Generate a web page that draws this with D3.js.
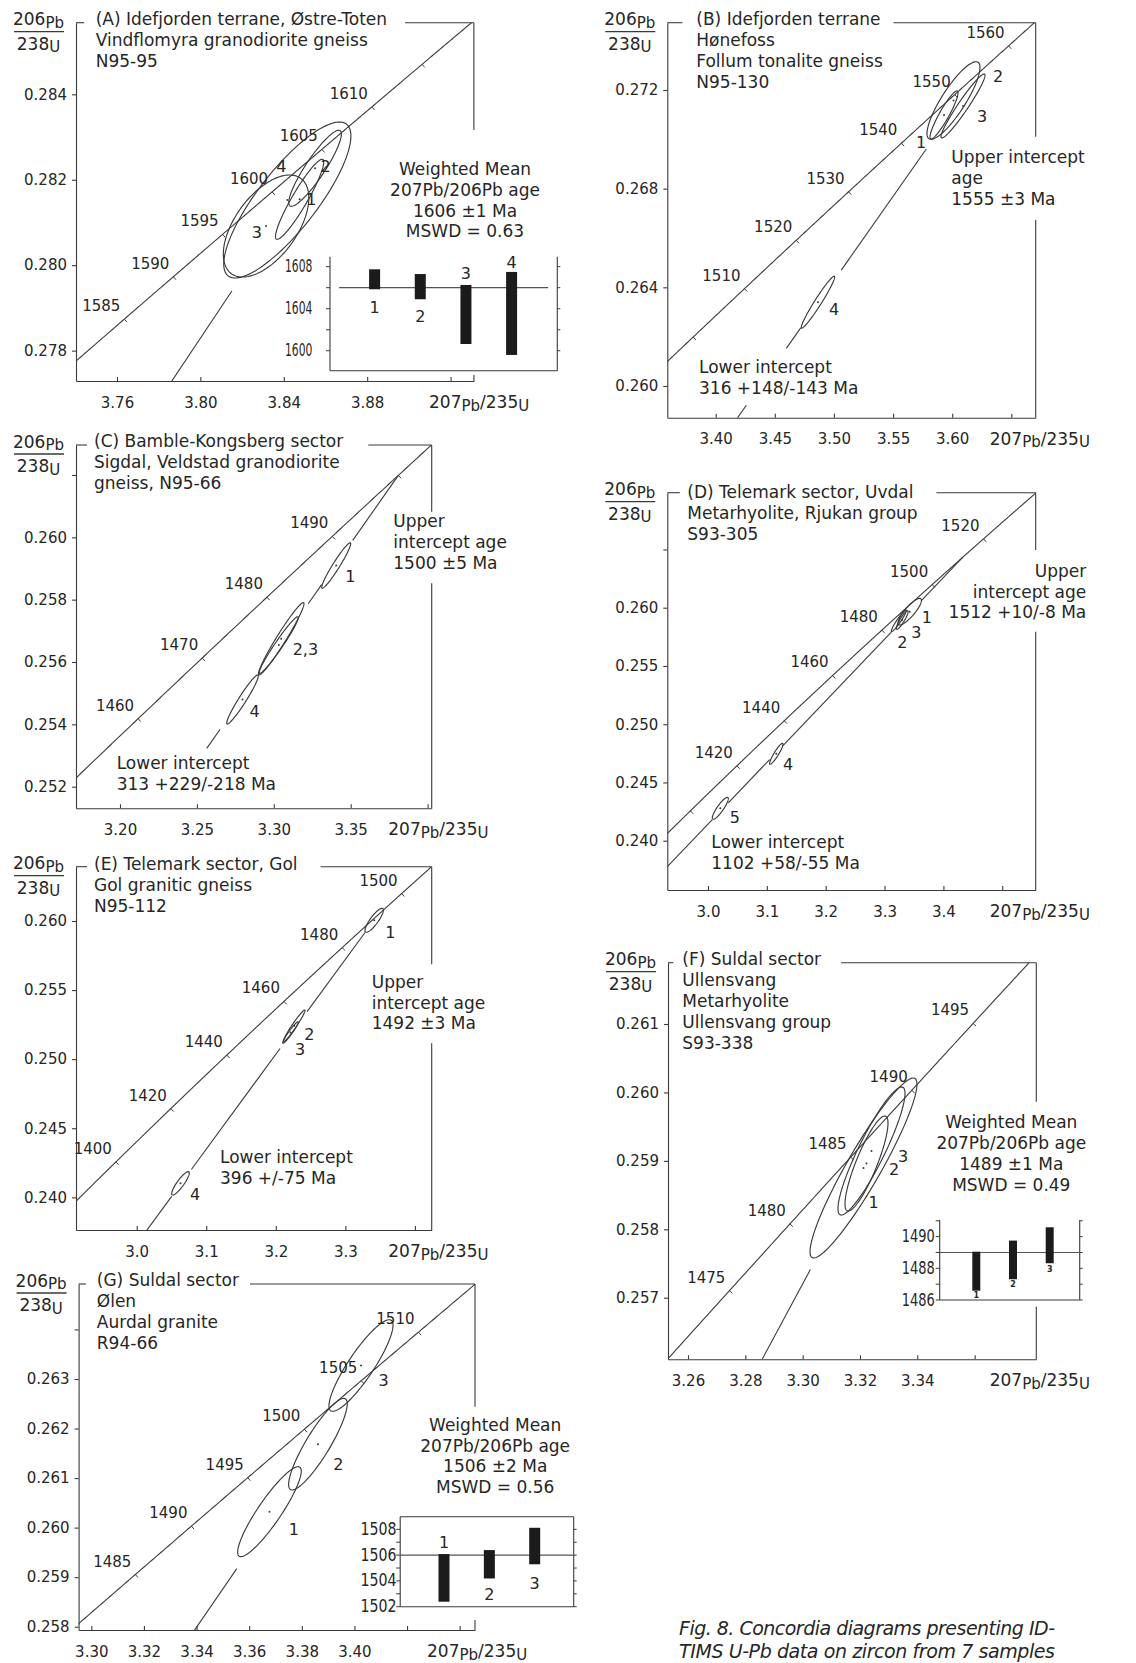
<!DOCTYPE html>
<html>
<head>
<meta charset="utf-8">
<script src="https://cdn.jsdelivr.net/npm/d3@7"></script>
<style>
  html, body { margin: 0; background: #fff; }
  svg { display: block; }
  text { font-family: "DejaVu Sans", "Liberation Sans", sans-serif; fill: #262626; }
</style>
</head>
<body>
<svg id="fig" width="1136" height="1663"></svg>
<script>
// U decay constants (per Ma); the concordia is the locus of (207Pb/235U, 206Pb/238U) for age t
const LAMBDA_238 = 1.55125e-4;
const LAMBDA_235 = 9.8485e-4;
const concordia = t => [Math.expm1(LAMBDA_235 * t), Math.expm1(LAMBDA_238 * t)];

// ---------- (A) Idefjorden terrane, Østre-Toten ----------
const titleA = ["(A) Idefjorden terrane, Østre-Toten", "Vindflomyra granodiorite gneiss", "N95-95"];
const xTicksA = [3.76, 3.80, 3.84, 3.88, 3.92];
const xLabelsA = ["3.76", "3.80", "3.84", "3.88", ""];
const yTicksA = [0.278, 0.280, 0.282, 0.284];
const yLabelsA = ["0.278", "0.280", "0.282", "0.284"];
const agesA = [1585, 1590, 1595, 1600, 1605, 1610, 1615];
const ageLabelsA = ["1585", "1590", "1595", "1600", "1605", "1610", ""];
// [label, 207/235, 206/238, half-width 207/235, half-width 206/238, rho]
const spotsA = [
  ["1", 3.8476, 0.281542, 0.01157, 0.000936, 0.93],
  ["2", 3.8550, 0.282268, 0.01262, 0.000890, 0.90],
  ["3", 3.8315, 0.280917, 0.0205, 0.001194, 0.55],
  ["4", 3.8417, 0.281526, 0.0305, 0.001826, 0.82]
];
const interceptsA = [1606, 0];
const discordiaA = [[3.70, 3.8151]];
const notesA = ["Weighted Mean", "207Pb/206Pb age", "1606 ±1 Ma", "MSWD = 0.63"];
const meanAgeA = 1606;
const barsA = [[1605.85, 1607.75], [1604.9, 1607.3], [1600.64, 1606.26], [1599.6, 1607.5]];
const barIdsA = ["1", "2", "3", "4"];
const barTicksA = [1600, 1602, 1604, 1606, 1608];
const barTickLabelsA = [1600, 1604, 1608];

// ---------- (B) Idefjorden terrane, Hønefoss ----------
const titleB = ["(B) Idefjorden terrane", "Hønefoss", "Follum tonalite gneiss", "N95-130"];
const xTicksB = [3.40, 3.45, 3.50, 3.55, 3.60, 3.65];
const xLabelsB = ["3.40", "3.45", "3.50", "3.55", "3.60", ""];
const yTicksB = [0.260, 0.264, 0.268, 0.272];
const yLabelsB = ["0.260", "0.264", "0.268", "0.272"];
const agesB = [1500, 1510, 1520, 1530, 1540, 1550, 1560];
const ageLabelsB = ["", "1510", "1520", "1530", "1540", "1550", "1560"];
const spotsB = [
  ["1", 3.59305, 0.270987, 0.01184, 0.000973, 0.92],
  ["2", 3.60108, 0.271574, 0.02241, 0.001573, 0.85],
  ["3", 3.60912, 0.271351, 0.0186, 0.001297, 0.96],
  ["4", 3.4865, 0.263400, 0.01412, 0.001054, 0.97]
];
const interceptsB = [1555, 316];
const discordiaB = [[3.40, 3.4259], [3.4597, 3.4719], [3.5062, 3.5781]];
const upperB = ["Upper intercept", "age", "1555 ±3 Ma"];
const lowerB = ["Lower intercept", "316 +148/-143 Ma"];

// ---------- (C) Bamble-Kongsberg sector ----------
const titleC = ["(C) Bamble-Kongsberg sector", "Sigdal, Veldstad granodiorite", "gneiss, N95-66"];
const xTicksC = [3.20, 3.25, 3.30, 3.35, 3.40];
const xLabelsC = ["3.20", "3.25", "3.30", "3.35", ""];
const yTicksC = [0.252, 0.254, 0.256, 0.258, 0.260, 0.262];
const yLabelsC = ["0.252", "0.254", "0.256", "0.258", "0.260", ""];
const agesC = [1460, 1470, 1480, 1490, 1500];
const ageLabelsC = ["1460", "1470", "1480", "1490", ""];
const spotsC = [
  ["1", 3.34057, 0.259095, 0.00943, 0.000731, 0.96],
  ["2,3", 3.30481, 0.256744, 0.01482, 0.001161, 0.97],
  ["", 3.30325, 0.256545, 0.01268, 0.000908, 0.97],
  ["4", 3.27965, 0.254797, 0.01027, 0.000786, 0.96]
];
const interceptsC = [1500, 313];
const discordiaC = [[3.2564, 3.2650], [3.3224, 3.3311], [3.3513, 3.3810]];
const upperC = ["Upper", "intercept age", "1500 ±5 Ma"];
const lowerC = ["Lower intercept", "313 +229/-218 Ma"];

// ---------- (D) Telemark sector, Uvdal ----------
const titleD = ["(D) Telemark sector, Uvdal", "Metarhyolite, Rjukan group", "S93-305"];
const xTicksD = [3.0, 3.1, 3.2, 3.3, 3.4, 3.5];
const xLabelsD = ["3.0", "3.1", "3.2", "3.3", "3.4", ""];
const yTicksD = [0.240, 0.245, 0.250, 0.255, 0.260, 0.265];
const yLabelsD = ["0.240", "0.245", "0.250", "0.255", "0.260", ""];
const agesD = [1400, 1420, 1440, 1460, 1480, 1500, 1520];
const ageLabelsD = ["", "1420", "1440", "1460", "1480", "1500", "1520"];
const spotsD = [
  ["1", 3.34274, 0.259657, 0.01988, 0.001142, 0.85],
  ["2", 3.32422, 0.258876, 0.01274, 0.000927, 0.95],
  ["3", 3.32999, 0.258944, 0.0100, 0.000800, 0.90],
  ["4", 3.11606, 0.247459, 0.01138, 0.000901, 0.92],
  ["5", 3.0209, 0.242781, 0.0136, 0.000944, 0.88]
];
const interceptsD = [1512, 1102];
const discordiaD = [[2.90, 3.0073], [3.0345, 3.1047], [3.1274, 3.3115], [3.3626, 3.4331]];
const upperD = ["Upper", "intercept age", "1512 +10/-8 Ma"];
const lowerD = ["Lower intercept", "1102 +58/-55 Ma"];

// ---------- (E) Telemark sector, Gol ----------
const titleE = ["(E) Telemark sector, Gol", "Gol granitic gneiss", "N95-112"];
const xTicksE = [3.0, 3.1, 3.2, 3.3, 3.4];
const xLabelsE = ["3.0", "3.1", "3.2", "3.3", ""];
const yTicksE = [0.240, 0.245, 0.250, 0.255, 0.260];
const yLabelsE = ["0.240", "0.245", "0.250", "0.255", "0.260"];
const agesE = [1400, 1420, 1440, 1460, 1480, 1500];
const ageLabelsE = ["1400", "1420", "1440", "1460", "1480", "1500"];
const spotsE = [
  ["1", 3.34148, 0.260051, 0.01323, 0.000869, 0.85],
  ["2", 3.22646, 0.252415, 0.01553, 0.001144, 0.97],
  ["3", 3.22114, 0.251930, 0.01121, 0.000782, 0.96],
  ["4", 3.06298, 0.241015, 0.01265, 0.000847, 0.88]
];
const interceptsE = [1492, 396];
const discordiaE = [[2.90, 3.0503], [3.0786, 3.2061], [3.2450, 3.3283]];
const upperE = ["Upper", "intercept age", "1492 ±3 Ma"];
const lowerE = ["Lower intercept", "396 +/-75 Ma"];

// ---------- (F) Suldal sector, Ullensvang ----------
const titleF = ["(F) Suldal sector", "Ullensvang", "Metarhyolite", "Ullensvang group", "S93-338"];
const xTicksF = [3.26, 3.28, 3.30, 3.32, 3.34, 3.36];
const xLabelsF = ["3.26", "3.28", "3.30", "3.32", "3.34", ""];
const yTicksF = [0.257, 0.258, 0.259, 0.260, 0.261];
const yLabelsF = ["0.257", "0.258", "0.259", "0.260", "0.261"];
const agesF = [1475, 1480, 1485, 1490, 1495];
const ageLabelsF = ["1475", "1480", "1485", "1490", "1495"];
const spotsF = [
  ["1", 3.32122, 0.258896, 0.01866, 0.001315, 0.93],
  ["2", 3.32401, 0.259144, 0.01169, 0.000935, 0.90],
  ["3", 3.32227, 0.258961, 0.0075, 0.000694, 0.85]
];
const interceptsF = [1489, 0];
const discordiaF = [[3.25, 3.3027]];
const notesF = ["Weighted Mean", "207Pb/206Pb age", "1489 ±1 Ma", "MSWD = 0.49"];
const meanAgeF = 1489;
const barsF = [[1486.59, 1489.05], [1487.31, 1489.75], [1488.32, 1490.59]];
const barIdsF = ["1", "2", "3"];
const barTicksF = [1486, 1487, 1488, 1489, 1490, 1491];
const barTickLabelsF = [1486, 1488, 1490];

// ---------- (G) Suldal sector, Ølen ----------
const titleG = ["(G) Suldal sector", "Ølen", "Aurdal granite", "R94-66"];
const xTicksG = [3.30, 3.32, 3.34, 3.36, 3.38, 3.40, 3.42, 3.44];
const xLabelsG = ["3.30", "3.32", "3.34", "3.36", "3.38", "3.40", "", ""];
const yTicksG = [0.258, 0.259, 0.260, 0.261, 0.262, 0.263, 0.264];
const yLabelsG = ["0.258", "0.259", "0.260", "0.261", "0.262", "0.263", ""];
const agesG = [1485, 1490, 1495, 1500, 1505, 1510];
const ageLabelsG = ["1485", "1490", "1495", "1500", "1505", "1510"];
const spotsG = [
  ["1", 3.36771, 0.260322, 0.01208, 0.000908, 0.90],
  ["2", 3.38613, 0.261684, 0.01113, 0.000924, 0.88],
  ["3", 3.40250, 0.263272, 0.01217, 0.000924, 0.88]
];
const interceptsG = [1506, 0];
const discordiaG = [[3.29, 3.3553]];
const notesG = ["Weighted Mean", "207Pb/206Pb age", "1506 ±2 Ma", "MSWD = 0.56"];
const meanAgeG = 1506;
const barsG = [[1502.39, 1506.08], [1504.19, 1506.39], [1505.29, 1508.12]];
const barIdsG = ["1", "2", "3"];
const barTicksG = [1502, 1503, 1504, 1505, 1506, 1507, 1508];
const barTickLabelsG = [1502, 1504, 1506, 1508];

const captionLines = ["Fig. 8. Concordia diagrams presenting ID-", "TIMS U-Pb data on zircon from 7 samples"];

// ---------- layout of the seven diagrams ----------
const panels = [
  { id: "A", box: [76, 22.7, 473.9, 381], xDom: [3.74034, 3.93119], yDom: [0.277289, 0.285676], tSpan: [1570, 1630],
    title: titleA, titleAt: [95.7, 25], xTicks: xTicksA, xLabels: xLabelsA, yTicks: yTicksA, yLabels: yLabelsA,
    ages: agesA, ageLabels: ageLabelsA, spots: spotsA, spotLabelAt: [[6.6, 6], [5.5, 4], [-14.3, 12], [-11, -28]],
    intercepts: interceptsA, discordia: discordiaA, rightGap: [130, 375], xTitleAt: 429, topGap: [11.5, 18],
    notes: [{ lines: notesA, x: 465, y: 175, anchor: "middle" }],
    inset: { box: [330, 256.7, 557.3, 370.7], dom: [1598.1, 1608.95], barX: [374.6, 511.6], barW: 11, top: false,
             meanX: [339.1, 548.2], labelRight: 312.4, labelLen: 27.4,
             bars: barsA, ids: barIdsA, mean: meanAgeA, ticks: barTicksA, labels: barTickLabelsA,
             idAt: [["lo", 24], ["lo", 22.4], ["hi", -5.7], ["hi", -3.6]], idSize: 16 } },
  { id: "B", box: [667.3, 22.7, 1035.7, 417.7], xDom: [3.35907, 3.67059], yDom: [0.258715, 0.274728], tSpan: [1480, 1580],
    title: titleB, titleAt: [696.3, 25], xTicks: xTicksB, xLabels: xLabelsB, yTicks: yTicksB, yLabels: yLabelsB,
    ages: agesB, ageLabels: ageLabelsB, spots: spotsB, spotLabelAt: [[-28, 33], [39.5, -18.5], [14, 16], [11, 12.5]],
    intercepts: interceptsB, discordia: discordiaB, rightGap: [136.7, 220], xTitleAt: 989.7, topGap: [14, 13],
    notes: [{ lines: upperB, x: 951.3, y: 163.3, anchor: "start" }, { lines: lowerB, x: 699, y: 372.7, anchor: "start" }] },
  { id: "C", box: [76, 445, 431.7, 808.3], xDom: [3.17139, 3.40267], yDom: [0.251307, 0.262961], tSpan: [1440, 1515],
    title: titleC, titleAt: [94, 447.3], xTicks: xTicksC, xLabels: xLabelsC, yTicks: yTicksC, yLabels: yLabelsC,
    ages: agesC, ageLabels: ageLabelsC, spots: spotsC, spotLabelAt: [[9, 16], [11.5, 16], [0, 0], [7, 17]],
    intercepts: interceptsC, discordia: discordiaC, rightGap: [511.7, 583.3], xTitleAt: 388.3, topGap: [7, 25],
    notes: [{ lines: upperC, x: 393.3, y: 527.3, anchor: "start" }, { lines: lowerC, x: 116.7, y: 769.3, anchor: "start" }] },
  { id: "D", box: [667.3, 492.7, 1035.7, 890], xDom: [2.93084, 3.55684], yDom: [0.235768, 0.269871], tSpan: [1370, 1545],
    title: titleD, titleAt: [687.3, 498], xTicks: xTicksD, xLabels: xLabelsD, yTicks: yTicksD, yLabels: yLabelsD,
    ages: agesD, ageLabels: ageLabelsD, spots: spotsD, spotLabelAt: [[12, 11], [-1.5, 27], [9, 18], [6.7, 16], [9.4, 15]],
    intercepts: interceptsD, discordia: discordiaD, rightGap: [550, 631.7], xTitleAt: 989.7, topGap: [7.5, 23],
    notes: [{ lines: upperD, x: 1086.3, y: 576.7, anchor: "end" }, { lines: lowerD, x: 711.3, y: 847.7, anchor: "start" }] },
  { id: "E", box: [76, 866.7, 431.7, 1230], xDom: [2.91272, 3.42416], yDom: [0.237635, 0.263930], tSpan: [1370, 1515],
    title: titleE, titleAt: [94, 870], xTicks: xTicksE, xLabels: xLabelsE, yTicks: yTicksE, yLabels: yLabelsE,
    ages: agesE, ageLabels: ageLabelsE, spots: spotsE, spotLabelAt: [[11, 18], [10, 14], [4.5, 22.5], [9.5, 17]],
    intercepts: interceptsE, discordia: discordiaE, rightGap: [964.3, 1043.3], xTitleAt: 388.3, topGap: [7, 23],
    notes: [{ lines: upperE, x: 371.7, y: 987.7, anchor: "start" }, { lines: lowerE, x: 220, y: 1163.3, anchor: "start" }] },
  { id: "F", box: [668, 962.7, 1036.3, 1359.3], xDom: [3.25302, 3.38151], yDom: [0.256100, 0.261896], tSpan: [1465, 1502],
    title: titleF, titleAt: [682.3, 965], xTicks: xTicksF, xLabels: xLabelsF, yTicks: yTicksF, yLabels: yLabelsF,
    ages: agesF, ageLabels: ageLabelsF, spots: spotsF, spotLabelAt: [[5, 40], [17.5, 24], [31.5, -2]],
    intercepts: interceptsF, discordia: discordiaF, rightGap: [1101.7, 1306.7], xTitleAt: 989.7, topGap: [9, 20],
    notes: [{ lines: notesF, x: 1011.3, y: 1128.3, anchor: "middle" }],
    inset: { box: [939.7, 1220, 1079.7, 1300], dom: [1486, 1491.05], barX: [976.3, 1049.7], barW: 8, top: false,
             meanX: [939.7, 1079.7], labelRight: 934.7, labelLen: 33,
             bars: barsF, ids: barIdsF, mean: meanAgeF, ticks: barTicksF, labels: barTickLabelsF,
             idAt: [["lo", 7], ["lo", 8], ["lo", 8.5]], idSize: 8 } },
  { id: "G", box: [78.6, 1284, 475, 1630], xDom: [3.29517, 3.44583], yDom: [0.257934, 0.264917], tSpan: [1475, 1520],
    title: titleG, titleAt: [96.8, 1286], xTicks: xTicksG, xLabels: xLabelsG, yTicks: yTicksG, yLabels: yLabelsG,
    ages: agesG, ageLabels: ageLabelsG, spots: spotsG, spotLabelAt: [[19.2, 23], [15.3, 26], [17.5, 20.5]],
    intercepts: interceptsG, discordia: discordiaG, rightGap: [1406.7, 1620], xTitleAt: 427, topGap: [11, 11],
    notes: [{ lines: notesG, x: 495.2, y: 1430.7, anchor: "middle" }],
    inset: { box: [400.2, 1516.7, 573.7, 1606.7], dom: [1502, 1508.98], barX: [444, 534.7], barW: 11, top: true,
             meanX: [400.2, 573.7], labelRight: 396.5, labelLen: 36,
             bars: barsG, ids: barIdsG, mean: meanAgeG, ticks: barTicksG, labels: barTickLabelsG,
             idAt: [["hi", -5.7], ["lo", 21.7], ["lo", 24.3]], idSize: 16 } }
];

const INK = "#262626";
const LINE = "#3a3a3a";
const svg = d3.select("#fig");
const defs = svg.append("defs");

function seg(g, x1, y1, x2, y2, w) {
  return g.append("line").attr("x1", x1).attr("y1", y1).attr("x2", x2).attr("y2", y2)
    .attr("stroke", LINE).attr("stroke-width", w || 1.1);
}

// isotope ratio label: mass numbers full size, element symbols smaller and lowered
function isotopeText(g, x, y, parts, anchor) {
  const t = g.append("text").attr("x", x).attr("y", y).attr("text-anchor", anchor || "start").attr("font-size", 17);
  let prev = 0;
  parts.forEach(([s, low]) => {
    const shift = low ? 2.5 : 0;
    t.append("tspan").attr("dy", shift - prev).attr("font-size", low ? 15 : 17).text(s);
    prev = shift;
  });
  return t;
}

function textBlock(g, lines, x, y, anchor, lh) {
  const t = g.append("text").attr("x", x).attr("y", y).attr("text-anchor", anchor).attr("font-size", 17);
  lines.forEach((s, i) => t.append("tspan").attr("x", x).attr("y", y + i * (lh || 20.8)).text(s));
  return t;
}

function drawInset(g, s) {
  const [l, t, r, b] = s.box;
  const yi = d3.scaleLinear().domain(s.dom).range([b, t]);
  const xi = d3.scalePoint().domain(d3.range(s.bars.length)).range(s.barX);
  g.append("rect").attr("x", l).attr("y", t - 3).attr("width", r - l).attr("height", b - t + 3).attr("fill", "#fff");
  seg(g, l, t, l, b); seg(g, l, b, r, b); seg(g, r, t, r, b);
  if (s.top) seg(g, l, t, r, t);
  s.ticks.forEach(v => { seg(g, l - 4, yi(v), l, yi(v), 1); seg(g, r, yi(v), r + 3, yi(v), 1); });
  s.labels.forEach(v => g.append("text").attr("x", s.labelRight).attr("y", yi(v) + 5.5)
    .attr("text-anchor", "end").attr("font-family", "'Liberation Sans', Arial, sans-serif").attr("font-size", 17)
    .attr("textLength", s.labelLen).attr("lengthAdjust", "spacingAndGlyphs").text(v));
  seg(g, s.meanX[0], yi(s.mean), s.meanX[1], yi(s.mean), 1.2).attr("stroke", "#555");
  s.bars.forEach(([lo, hi], i) => {
    g.append("rect").attr("x", xi(i) - s.barW / 2).attr("y", yi(hi)).attr("width", s.barW)
      .attr("height", yi(lo) - yi(hi)).attr("fill", "#1b1b1b");
    const [end, dy] = s.idAt[i];
    g.append("text").attr("x", xi(i)).attr("y", (end === "lo" ? yi(lo) : yi(hi)) + dy)
      .attr("text-anchor", "middle").attr("font-size", s.idSize)
      .attr("font-weight", s.idSize < 10 ? "bold" : null).text(s.ids[i]);
  });
}

function drawPanel(p) {
  const [L, T, R, B] = p.box;
  const g = svg.append("g").attr("class", "diagram-" + p.id);
  const x = d3.scaleLinear().domain(p.xDom).range([L, R]);
  const y = d3.scaleLinear().domain(p.yDom).range([B, T]);
  const clipId = "clip-" + p.id;
  defs.append("clipPath").attr("id", clipId).append("rect")
    .attr("x", L).attr("y", T).attr("width", R - L).attr("height", B - T);
  const plot = g.append("g").attr("clip-path", `url(#${clipId})`);

  // discordia chord through the upper and lower intercepts
  const up = concordia(p.intercepts[0]);
  const lo = concordia(p.intercepts[1]);
  const slope = (up[1] - lo[1]) / (up[0] - lo[0]);
  const chord = v => up[1] + slope * (v - up[0]);
  p.discordia.forEach(([a, b]) => seg(plot, x(a), y(chord(a)), x(b), y(chord(b))));

  // concordia curve
  const ts = d3.range(p.tSpan[0], p.tSpan[1] + 0.01, 0.25);
  plot.append("path")
    .attr("d", d3.line().x(t => x(concordia(t)[0])).y(t => y(concordia(t)[1]))(ts))
    .attr("fill", "none").attr("stroke", LINE).attr("stroke-width", 1.1);

  // age marks along the concordia
  p.ages.forEach((t, i) => {
    const c = concordia(t), a = concordia(t - 0.5), b = concordia(t + 0.5);
    const px = x(c[0]), py = y(c[1]);
    let tx = x(b[0]) - x(a[0]), ty = y(b[1]) - y(a[1]);
    const n = Math.hypot(tx, ty); tx /= n; ty /= n;
    seg(plot, px, py, px - ty * 4, py + tx * 4, 1);
    if (p.ageLabels[i]) {
      g.append("text").attr("x", px - 4).attr("y", py - 8).attr("text-anchor", "end")
        .attr("font-size", 15).text(p.ageLabels[i]);
    }
  });

  // error ellipses
  const theta = d3.range(0, 2 * Math.PI, Math.PI / 72);
  p.spots.forEach(([id, mx, my, sx, sy, rho], i) => {
    const k = Math.sqrt(1 - rho * rho);
    const pts = theta.map(a => [x(mx + sx * Math.cos(a)), y(my + sy * (rho * Math.cos(a) + k * Math.sin(a)))]);
    plot.append("path").attr("d", d3.line().curve(d3.curveLinearClosed)(pts))
      .attr("fill", "none").attr("stroke", LINE).attr("stroke-width", 1.15);
    plot.append("circle").attr("cx", x(mx)).attr("cy", y(my)).attr("r", 1).attr("fill", LINE);
    if (id) {
      const [dx, dy] = p.spotLabelAt[i];
      g.append("text").attr("x", x(mx) + dx).attr("y", y(my) + dy).attr("font-size", 16).text(id);
    }
  });

  // axes
  const yAx = g.append("g").attr("transform", `translate(${L},0)`)
    .call(d3.axisLeft(y).tickValues(p.yTicks).tickFormat((d, i) => p.yLabels[i])
      .tickSize(4).tickSizeOuter(0).tickPadding(5));
  const xAx = g.append("g").attr("transform", `translate(0,${B})`)
    .call(d3.axisBottom(x).tickValues(p.xTicks).tickFormat((d, i) => p.xLabels[i])
      .tickSize(-4).tickSizeOuter(0).tickPadding(16));
  [yAx, xAx].forEach(ax => {
    ax.attr("font-family", null).attr("font-size", null);
    ax.selectAll("path, line").attr("stroke", LINE).attr("stroke-width", 1.1);
    ax.selectAll("text").attr("font-size", 15).attr("fill", INK);
  });

  // title block, interrupting the top frame line
  p.title.forEach((s, i) => {
    const t = g.append("text").attr("x", p.titleAt[0]).attr("y", p.titleAt[1] + i * 21)
      .attr("font-size", 17).text(s);
    if (i === 0) {
      const w = t.node().getComputedTextLength();
      seg(g, L, T, p.titleAt[0] - p.topGap[0], T);
      seg(g, p.titleAt[0] + w + p.topGap[1], T, R, T);
    }
  });

  // right frame, broken where the annotations sit
  seg(g, R, T, R, p.rightGap[0]);
  seg(g, R, p.rightGap[1], R, B);

  // axis titles
  const yl = L - 37.5;
  isotopeText(g, yl, T + 2.5, [["206", 0], ["Pb", 1]], "middle");
  seg(g, L - 62, T + 9, L - 12, T + 9, 1.3);
  isotopeText(g, yl, T + 27, [["238", 0], ["U", 1]], "middle");
  isotopeText(g, p.xTitleAt, B + 27, [["207", 0], ["Pb", 1], ["/235", 0], ["U", 1]], "start");

  p.notes.forEach(n => textBlock(g, n.lines, n.x, n.y, n.anchor));
  if (p.inset) drawInset(g, p.inset);
}

panels.forEach(drawPanel);

// figure caption
captionLines.forEach((s, i) => {
  svg.append("text").attr("x", 679).attr("y", 1635 + i * 23)
    .attr("font-family", "'Liberation Serif', 'DejaVu Serif', serif").attr("font-style", "italic")
    .attr("font-size", 19).attr("textLength", 376).attr("lengthAdjust", "spacing").text(s);
});
</script>
</body>
</html>
